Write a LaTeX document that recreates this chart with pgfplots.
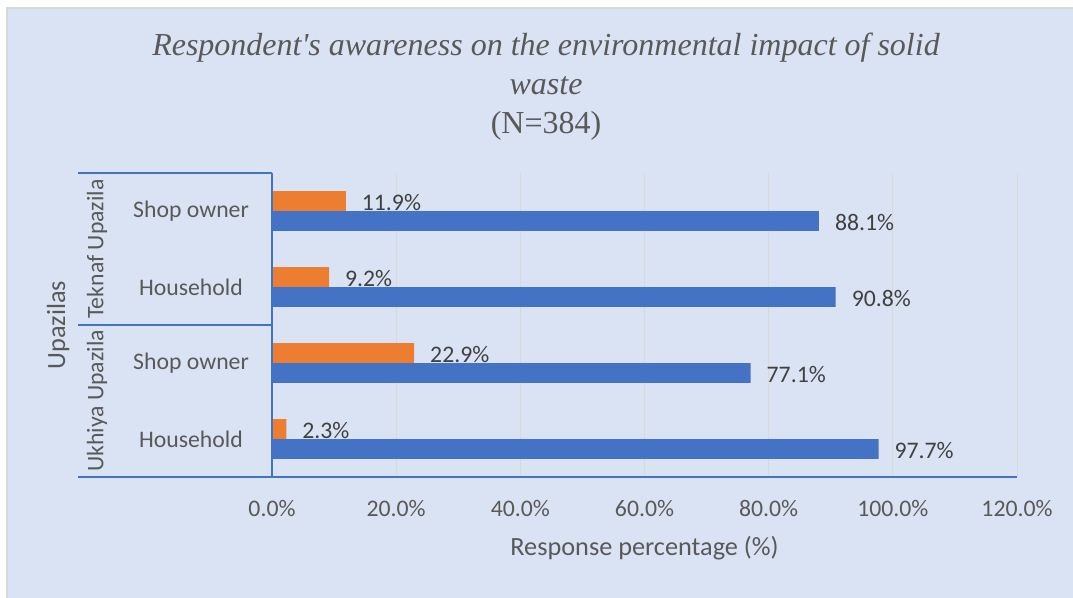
\documentclass[border=0pt]{standalone}
\usepackage{pgfplots}
\pgfplotsset{compat=1.18}
\usepackage{fontspec}
\setmainfont{Carlito}
\newfontfamily\titlefont{Liberation Serif}
\definecolor{panel}{RGB}{218,227,243}
\definecolor{barblue}{RGB}{68,114,196}
\definecolor{barorange}{RGB}{237,125,49}
\definecolor{txtgray}{RGB}{89,89,89}
\definecolor{lblgray}{RGB}{64,64,64}
\definecolor{gridgray}{RGB}{217,217,217}

% 1 px of the reference = 0.75pt
\begin{document}
\begin{tikzpicture}
\useasboundingbox (0,0) rectangle (804.75pt,-448.5pt);
\begin{scope}[x=0.75pt,y=-0.75pt]
  \fill[white] (0,0) rectangle (1073,598);
  \fill[panel] (7,8) rectangle (1073,598);
  \draw[black!15,line width=0.9pt] (7,598) -- (7,8) -- (1073,8);
  \node[font=\titlefont\itshape\fontsize{24}{29}\selectfont,text=txtgray] at (546,48)
    {Respondent's awareness on the environmental impact of solid};
  \node[font=\titlefont\itshape\fontsize{24}{29}\selectfont,text=txtgray] at (546,86) {waste};
  \node[font=\titlefont\fontsize{24}{29}\selectfont,text=txtgray] at (546,126) {(N=384)};
\end{scope}

\begin{axis}[
  at={(204pt,-357.75pt)}, anchor=south west,
  scale only axis, width=558.75pt, height=228pt,
  xbar, bar width=0.263,
  xmin=0, xmax=120, ymin=-0.5, ymax=3.5,
  axis line style={draw=none},
  major tick length=0,
  xtick={0,20,...,120},
  xmajorgrids, grid style={gridgray,line width=0.75pt},
  /pgf/number format/assume math mode=true,
  xticklabel={\pgfmathprintnumber[fixed,fixed zerofill,precision=1]{\tick}\%},
  xticklabel style={anchor=center,yshift=-23.25pt,text=txtgray,
    font=\fontsize{17.8}{21}\selectfont},
  ytick={0,1,2,3},
  yticklabels={Household,Shop owner,Household,Shop owner},
  yticklabel style={anchor=center,xshift=-60.75pt,text=txtgray,
    font=\fontsize{17.8}{21}\selectfont},
  xlabel={Response percentage (\%)},
  xlabel style={at={(rel axis cs:0.5,0)},anchor=center,yshift=-53.25pt,
    text=txtgray,font=\fontsize{19.7}{23}\selectfont},
  ylabel={Upazilas},
  ylabel style={at={(rel axis cs:-0.2872,0.5)},anchor=center,rotate=0,
    text=txtgray,font=\fontsize{19.7}{23}\selectfont},
  point meta=x,
  nodes near coords={\pgfmathprintnumber[fixed,fixed zerofill,precision=1]{\pgfplotspointmeta}\%},
  nodes near coords style={anchor=west,xshift=8.5pt,yshift=-1pt,text=lblgray,
    font=\fontsize{17.8}{21}\selectfont},
  clip=false,
]
% 0 = Ukhiya Household, 1 = Ukhiya Shop owner, 2 = Teknaf Household, 3 = Teknaf Shop owner
\addplot[fill=barblue,draw=none,bar shift=-0.1316]
  coordinates {(97.7,0) (77.1,1) (90.8,2) (88.1,3)};
\addplot[fill=barorange,draw=none,bar shift=0.1316]
  coordinates {(2.3,0) (22.9,1) (9.2,2) (11.9,3)};

% axis lines and category group separators
\draw[barblue,line width=1pt] (rel axis cs:0,0) -- (rel axis cs:0,1);
\draw[barblue,line width=1pt] (rel axis cs:-0.2604,0) -- (rel axis cs:1,0);
\draw[barblue,line width=1pt] (rel axis cs:-0.2604,0.5) -- (rel axis cs:0,0.5);
\draw[barblue,line width=1pt] (rel axis cs:-0.2604,1) -- (rel axis cs:0,1);
\node[rotate=90,text=txtgray,font=\fontsize{17.8}{21}\selectfont]
  at (rel axis cs:-0.2349,0.75) {Teknaf Upazila};
\node[rotate=90,text=txtgray,font=\fontsize{17.8}{21}\selectfont]
  at (rel axis cs:-0.2349,0.25) {Ukhiya Upazila};
\end{axis}
\end{tikzpicture}
\end{document}
